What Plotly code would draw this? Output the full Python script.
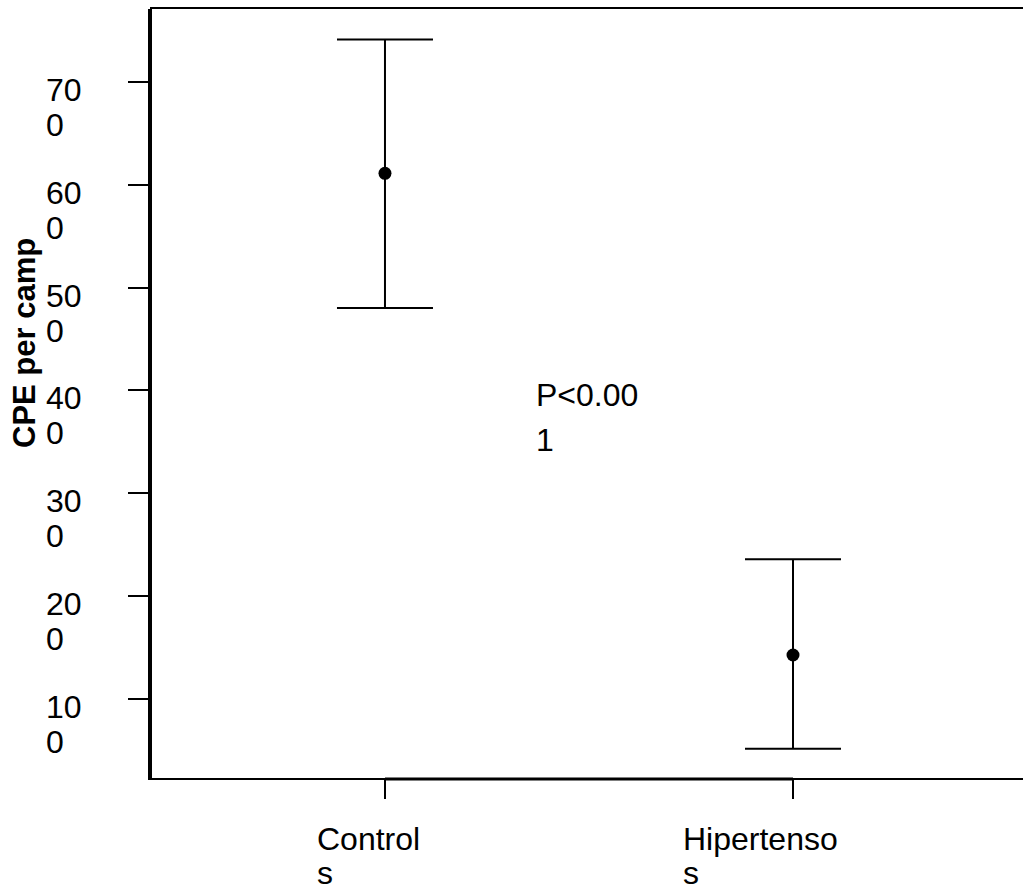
import plotly.graph_objects as go

categories = ["Control<br>s", "Hipertenso<br>s"]
means = [611, 143]
err_plus = [130, 93]
err_minus = [131, 91]
ytick_vals = [100, 200, 300, 400, 500, 600, 700]
ytick_text = ["10<br>0", "20<br>0", "30<br>0", "40<br>0", "50<br>0", "60<br>0", "70<br>0"]
y_title = "CPE per camp"
p_text = "P<0.00<br>1"

xpos = list(range(len(categories)))
FONT = "Liberation Sans, Arial, sans-serif"
FS = 32

fig = go.Figure()
fig.add_trace(go.Scatter(
    x=xpos, y=means, mode="markers",
    marker=dict(color="black", size=13),
    error_y=dict(type="data", symmetric=False, array=err_plus, arrayminus=err_minus,
                 color="black", thickness=2, width=48),
    showlegend=False, hoverinfo="skip",
))

annotations = []
# y tick labels (wrapped, left aligned, below the tick)
for v, t in zip(ytick_vals, ytick_text):
    for i, line in enumerate(t.split("<br>")):
        annotations.append(dict(
            x=-0.1240, xref="paper", y=v, yref="y", text=line, showarrow=False,
            xanchor="left", yanchor="top", align="left", yshift=12 - 35 * i,
            font=dict(family=FONT, size=FS, color="black"),
        ))
# x tick labels
xshifts = [-69, -111]
for xp, t, s in zip(xpos, categories, xshifts):
    for i, line in enumerate(t.split("<br>")):
        annotations.append(dict(
            x=xp, xref="x", y=0, yref="paper", text=line, showarrow=False,
            xanchor="left", yanchor="top", align="left", xshift=s, yshift=-42 - 34 * i,
            borderpad=0,
            font=dict(family=FONT, size=FS, color="black"),
        ))
# y axis title
annotations.append(dict(
    x=-0.1458, xref="paper", y=0.5657, yref="paper", text="<b>" + y_title + "</b>",
    showarrow=False, textangle=-90, xanchor="center", yanchor="middle",
    font=dict(family=FONT, size=31, color="black"),
))
# p value
for i, line in enumerate(p_text.split("<br>")):
    annotations.append(dict(
        x=0.366, xref="x", y=407, yref="y", text=line, showarrow=False,
        xanchor="left", yanchor="top", align="left", yshift=8 - 45 * i,
        font=dict(family=FONT, size=FS, color="black"),
    ))

shapes = [
    # outer line of double left axis
    dict(type="line", xref="paper", yref="paper", x0=-3/871, x1=-3/871, y0=1, y1=-2/769,
         line=dict(color="black", width=2)),
    # thicker bottom segment between categories
    dict(type="line", xref="x", yref="paper", x0=xpos[0], x1=xpos[-1], y0=-1/769, y1=-1/769,
         line=dict(color="black", width=3)),
]

fig.update_layout(
    width=1023, height=891,
    margin=dict(l=152, r=0, t=9, b=113, pad=0),
    paper_bgcolor="white", plot_bgcolor="white",
    font=dict(family=FONT, size=FS, color="black"),
    xaxis=dict(range=[-0.571, 1.5637], tickvals=xpos, ticktext=["", ""],
               showgrid=False, zeroline=False, showline=True, linecolor="black", linewidth=2,
               mirror=True, ticks="outside", ticklen=19, tickwidth=2, tickcolor="black"),
    yaxis=dict(range=[23.5, 770.6], tickvals=ytick_vals, ticktext=[""] * len(ytick_vals),
               showgrid=False, zeroline=False, showline=True, linecolor="black", linewidth=2,
               ticks="outside", ticklen=22, tickwidth=2, tickcolor="black"),
    annotations=annotations,
    shapes=shapes,
)

fig.write_html(
    "out.html",
    config={"displayModeBar": False},
    post_script="document.body.style.margin='0';document.body.style.overflow='hidden';",
)
